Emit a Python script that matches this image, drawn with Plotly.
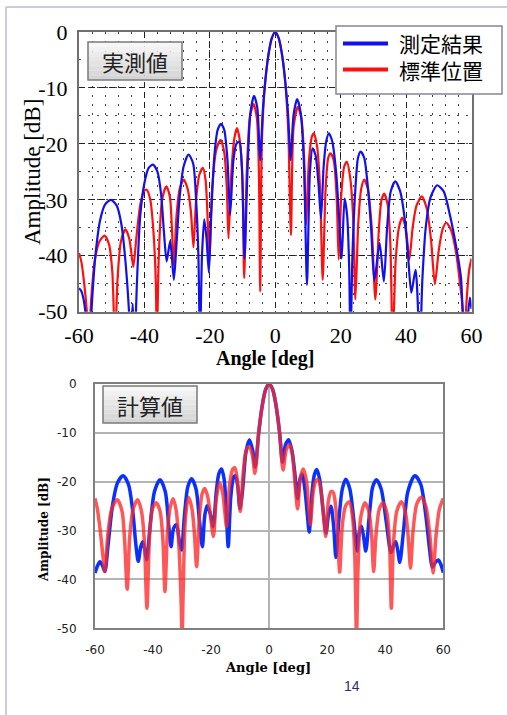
import plotly.graph_objects as go

# ---------------- data ----------------
LEGEND_NAMES = ["測定結果", "標準位置"]
TOP_TAG = "実測値"
BOTTOM_TAG = "計算値"
X_TICKS = [-60, -40, -20, 0, 20, 40, 60]
X_TICK_TEXT = ["-60", "-40", "-20", "0", "20", "40", "60"]
Y_TICKS = [0, -10, -20, -30, -40, -50]
Y_TICK_TEXT = ["0", "-10", "-20", "-30", "-40", "-50"]

# measured: measurement result (blue)
TOP_MEAS = [(-60,-45.8),(-59.3,-46.3),(-58.6,-47.8),(-57.6,-52),(-56.8,-56),(-56,-48),(-55,-40),
            (-53.5,-33.5),(-52,-30.8),(-50.2,-30),(-48.5,-31),(-47,-34.5),(-45.8,-41),(-44.7,-50),
            (-44.2,-56),(-43.6,-48.6),(-43,-56),(-42.3,-45),(-41.3,-33),(-40,-27),(-38.7,-24.3),
            (-37.4,-23.7),(-36,-25),(-34.9,-29),(-34,-36),(-33.2,-41),(-32.1,-37.3),(-31,-44.3),
            (-30.2,-38),(-29.3,-30),(-28,-24),(-26.5,-21.9),(-25.1,-23.5),(-24.2,-30),(-23.5,-40),
            (-23,-56),(-22.4,-40),(-21.7,-33.5),(-21,-37),(-20.3,-43),(-19.6,-33),(-18.6,-22),
            (-17.6,-17.5),(-16.6,-16.4),(-15.6,-17.5),(-14.6,-23),(-13.8,-32.7),(-12.8,-23),
            (-11.9,-20),(-11,-19.6),(-10.2,-24),(-9.4,-40.5),(-8.5,-25),(-7.6,-14.5),(-6.5,-11.4),
            (-5.5,-13.5),(-4.6,-23),(-3.8,-14),(-3,-8.5),(-2,-3.8),(-1,-1),(0,0),(1,-1),(2,-3.8),
            (3,-8.5),(3.9,-14.5),(4.7,-22.9),(5.6,-14.8),(6.7,-12),(7.8,-14.5),(8.8,-24),(9.7,-45.2),
            (10.6,-25),(11.4,-20.8),(12.3,-22),(13.2,-27),(14,-33.3),(14.8,-24),(15.6,-19.5),
            (16.4,-18.1),(17.4,-19.5),(18.6,-25),(19.5,-33),(20.3,-40.5),(21.2,-29.8),(22,-33),
            (22.6,-42),(23,-56),(23.6,-40),(24.5,-28),(25.3,-22.5),(26.1,-21.4),(27.2,-22.5),
            (28.2,-27),(29.3,-35),(30.3,-44.5),(31.9,-37.7),(33.2,-44.6),(34.2,-35),(35.3,-28.5),
            (36.7,-26.7),(38.2,-28.5),(39.5,-33),(40.6,-40),(41.6,-46.6),(42.9,-42.5),(44.2,-56),
            (45,-44),(46,-35),(47.5,-29.5),(49.5,-27.4),(51.5,-28.5),(53.5,-33),(55.5,-39),
            (56.8,-44),(57.8,-56),(58.7,-52),(59.5,-47.5),(60,-49.5)]

# measured: standard position (red)
TOP_STD = [(-60,-39.5),(-59.3,-41),(-58.5,-44.5),(-57.6,-50),(-57,-56),(-56.3,-48),(-55.2,-41),
           (-53.8,-37.5),(-52.2,-36.4),(-50.8,-38),(-49.8,-43),(-49,-56),(-48.2,-44),(-47.2,-37.5),
           (-45.8,-35.3),(-44.6,-37),(-43.4,-42),(-42.5,-37),(-41.3,-31),(-40.2,-28.5),(-39.3,-28.2),
           (-38.2,-30),(-37.2,-36),(-36.5,-45),(-36.2,-56),(-35.6,-40),(-34.6,-30),(-33.3,-27.6),
           (-32.2,-29.5),(-31.6,-35),(-31,-41.8),(-30.2,-33),(-29.2,-28),(-28,-26.4),(-26.8,-28),
           (-25.8,-32),(-25,-38.5),(-24.2,-30),(-23.2,-25.5),(-22.1,-24.3),(-21.3,-26.5),(-20.7,-33),
           (-20.2,-41.7),(-19.3,-28),(-18,-21),(-16.7,-19.3),(-15.6,-21.5),(-14.8,-28),(-14.3,-36.9),
           (-13.4,-25),(-12.5,-19),(-11.7,-17.2),(-10.8,-19.5),(-10,-27),(-9.5,-44),(-8.7,-25),
           (-7.7,-15),(-6.6,-12.9),(-5.6,-15.5),(-5,-25),(-4.6,-46.4),(-4.1,-20),(-3.3,-10.5),
           (-2.2,-4.5),(-1.1,-1.2),(0,0),(1.1,-1.2),(2.2,-4.5),(3.2,-10),(4,-18),(4.8,-36.3),
           (5.6,-17),(6.9,-13.4),(8,-15.5),(8.8,-22),(9.4,-34.5),(10.3,-23),(11.2,-18.7),(11.8,-18.1),
           (12.8,-20.5),(13.7,-28),(14.5,-44.3),(15.4,-28),(16.2,-22.5),(16.9,-21.7),(17.9,-23),
           (18.8,-30),(19.4,-40.7),(20.2,-29),(21.1,-24),(21.9,-23.2),(22.9,-26),(23.8,-33),
           (24.5,-47.8),(25.4,-34),(26.3,-28),(27.2,-26.4),(28.3,-28),(29.5,-35),(30.6,-47.8),
           (31.7,-35),(32.5,-30),(33.3,-28.9),(34.4,-31),(35.2,-38),(35.9,-56),(36.8,-41),(37.8,-35),
           (38.8,-33.2),(39.9,-35),(41,-40.7),(42,-35),(43.2,-31),(44.8,-29.4),(46.3,-31.5),
           (47.6,-37),(48.8,-45.1),(50,-39),(51.2,-35.2),(52.3,-34.1),(53.8,-35.5),(55.3,-39.5),
           (56.5,-45),(57.4,-50),(57.8,-56),(58.5,-48),(59.3,-42.5),(60,-40.5)]

# calculated: measurement result (blue)
CALC_MEAS = [(-60,-38.7),(-59.2,-37.3),(-58.3,-36.4),(-57.4,-37.2),(-56.6,-38.4),(-55.5,-33),(-54,-25),
             (-52.3,-20.3),(-50.3,-18.8),(-48.5,-20.5),(-47,-26),(-45.9,-33),(-45.1,-36.3),(-44.2,-33.2),
             (-43.5,-32.3),(-42.7,-34.5),(-42.2,-36),(-41,-29),(-39.5,-22),(-37.6,-19.6),(-35.8,-22),
             (-34.6,-29),(-33.8,-33.3),(-32.9,-29.5),(-31.9,-28.8),(-31,-32),(-30.2,-34),(-29.2,-27),
             (-28,-21),(-26.7,-19.4),(-25.2,-21.5),(-24,-28),(-23,-33.3),(-22.2,-27),(-21.4,-24.9),
             (-20.3,-26.5),(-19.3,-29.2),(-18.2,-22),(-17.3,-18.3),(-16.4,-17.4),(-15.5,-19.5),
             (-14.7,-27),(-14.1,-33.3),(-13.2,-23),(-12.2,-19),(-11.6,-18.8),(-10.8,-21),(-10.1,-25.5),
             (-9.2,-22),(-8,-14),(-6.8,-11.4),(-5.7,-13.5),(-4.8,-17),(-3.6,-10),(-2.4,-4.5),
             (-1.2,-1.1),(0,0),(1.2,-1.1),(2.4,-4.5),(3.6,-10),(4.6,-16),(5.6,-12.5),(6.7,-11.4),
             (7.8,-13.5),(8.8,-18),(9.8,-23.5),(10.6,-19.5),(11.4,-18.4),(12.3,-21.5),(13.2,-27),
             (13.8,-30.3),(14.8,-22),(15.6,-18.5),(16.4,-17.5),(17.4,-19.5),(18.6,-26),(19.6,-30.5),
             (20.5,-26.5),(21.3,-25),(22.2,-29),(23,-35.5),(24,-28),(25.2,-21.5),(26.4,-19.5),
             (27.8,-21.5),(29.2,-28),(30.3,-34.2),(31,-30.5),(31.8,-29.1),(32.6,-31.5),(33.3,-34.2),
             (34.5,-27),(35.7,-21),(37,-19.6),(38.6,-21.5),(40.3,-28),(42,-34.5),(42.9,-33),
             (43.6,-32.3),(44.3,-34),(45,-36.5),(46.3,-30),(47.8,-22),(50.2,-18.8),(52.2,-20.5),
             (54,-27),(55.3,-34),(56.2,-37.5),(57.3,-36.5),(58.3,-36),(59.2,-37),(60,-38.6)]

# calculated: standard position (red)
CALC_STD = [(-60,-23.4),(-59.2,-25.5),(-58.2,-30),(-57.3,-35),(-56.6,-38.4),(-55.6,-31),(-54.2,-25.5),
            (-52.3,-23.7),(-50.7,-26),(-49.8,-32),(-48.9,-42),(-48,-31),(-46.8,-25.5),(-45.3,-23.7),
            (-44,-26),(-43,-32),(-42.1,-45.9),(-41.2,-31),(-40.2,-25.5),(-38.9,-24.3),(-37.6,-26),
            (-36.6,-32),(-35.9,-42.5),(-35,-30),(-34,-25),(-33.1,-23.5),(-32,-26),(-31.1,-33),
            (-30.3,-45),(-30,-52),(-29.6,-42),(-28.9,-28),(-27.8,-23.2),(-26.6,-25.5),(-25.7,-31),
            (-25,-37.4),(-24,-27),(-23.1,-22.5),(-22.2,-21.4),(-21.2,-23),(-20.2,-27),(-19.2,-31.2),
            (-18.2,-23.5),(-17.1,-20.2),(-16.1,-22),(-15.3,-26),(-14.7,-29.2),(-13.7,-21),(-12.6,-17.5),
            (-11.8,-17.1),(-11,-19.5),(-10.3,-24),(-9.9,-26.1),(-8.9,-18),(-7.9,-13.5),(-6.9,-12.8),
            (-5.8,-14.5),(-4.9,-18.3),(-3.6,-10),(-2.4,-4.5),(-1.2,-1.1),(0,0),(1.2,-1.1),(2.4,-4.5),
            (3.6,-10),(4.8,-17.6),(5.9,-13.5),(7,-12.4),(8,-14.5),(9,-21),(9.8,-25.6),(10.8,-19),
            (11.8,-17.4),(12.9,-20),(13.6,-25),(14.2,-28.8),(15.2,-22),(16.1,-19.8),(16.9,-19.6),
            (17.9,-22),(18.8,-27.5),(19.5,-31.2),(20.4,-24),(21.3,-22),(22.1,-22.2),(22.9,-25),
            (23.7,-32),(24.3,-38.5),(25.2,-29),(26.3,-25),(27.6,-24.1),(28.7,-27),(29.5,-35),
            (30.1,-52),(30.6,-38),(31.5,-27.5),(33,-24.3),(34.3,-26),(35.3,-31),(36,-38.4),(36.8,-31),
            (38,-25.5),(39.3,-24.3),(40.6,-26.5),(41.5,-33),(42.1,-45.9),(42.8,-33),(44,-26),
            (45.6,-24.1),(47,-26.5),(48,-32),(48.7,-37.7),(49.6,-30),(50.9,-24.5),(52.5,-23.2),
            (54,-25),(55.3,-30.5),(56.5,-38.7),(57.5,-31),(58.7,-25.5),(60,-23.4)]

# ---------------- layout helpers ----------------
W, H = 507, 715
def fx(px): return px / W
def fy(py): return 1 - py / H

def xy(pairs):
    return [p[0] for p in pairs], [p[1] for p in pairs]

fig = go.Figure()

BLUE_T, RED_T = "#1010f0", "#ff1010"
BLUE_B, RED_B = "#0a30ff", "rgba(255,40,40,0.78)"

x, y = xy(TOP_STD)
fig.add_trace(go.Scatter(x=x, y=y, name=LEGEND_NAMES[1], mode="lines", showlegend=False,
                         line=dict(color=RED_T, width=2.2, shape="spline", smoothing=0.7),
                         xaxis="x", yaxis="y"))
x, y = xy(TOP_MEAS)
fig.add_trace(go.Scatter(x=x, y=y, name=LEGEND_NAMES[0], mode="lines", showlegend=False,
                         line=dict(color=BLUE_T, width=2.2, shape="spline", smoothing=0.7),
                         xaxis="x", yaxis="y"))
x, y = xy(CALC_MEAS)
fig.add_trace(go.Scatter(x=x, y=y, name=LEGEND_NAMES[0], showlegend=False, mode="lines",
                         line=dict(color=BLUE_B, width=3.5, shape="spline", smoothing=0.8),
                         xaxis="x2", yaxis="y2"))
x, y = xy(CALC_STD)
fig.add_trace(go.Scatter(x=x, y=y, name=LEGEND_NAMES[1], showlegend=False, mode="lines",
                         line=dict(color=RED_B, width=3.5, shape="spline", smoothing=0.8),
                         xaxis="x2", yaxis="y2"))

SERIF = "Liberation Serif, Times New Roman, serif"
CJK = "Noto Sans CJK JP"

top_x = dict(domain=[fx(79), fx(471.5)], anchor="y", range=[-60, 60],
             tickvals=X_TICKS, ticktext=X_TICK_TEXT, automargin=False,
             showgrid=True, gridcolor="#222", gridwidth=1, griddash="6px,4px",
             minor=dict(dtick=4, tick0=0, showgrid=True, gridcolor="#444", gridwidth=1, griddash="2px,7px"),
             zeroline=False, showline=True, linecolor="#707070", linewidth=2, mirror=True,
             ticks="", ticklabelstandoff=3, tickfont=dict(family=SERIF, size=22, color="black"))
top_y = dict(domain=[fy(311.7), fy(32)], anchor="x", range=[-50, 0],
             tickvals=Y_TICKS, ticktext=Y_TICK_TEXT, automargin=False,
             showgrid=True, gridcolor="#222", gridwidth=1, griddash="6px,4px",
             minor=dict(dtick=5, tick0=0, showgrid=True, gridcolor="#444", gridwidth=1, griddash="2px,7px"),
             zeroline=False, showline=True, linecolor="#707070", linewidth=2, mirror=True,
             ticks="", ticklabelstandoff=5, tickfont=dict(family=SERIF, size=22, color="black"))
bot_x = dict(domain=[fx(95), fx(443.3)], anchor="y2", range=[-60, 60],
             tickvals=X_TICKS, ticktext=X_TICK_TEXT, automargin=False,
             showgrid=False, zeroline=True, zerolinecolor="#b4b4b4", zerolinewidth=1.5,
             showline=True, linecolor="#808080", linewidth=2, mirror=True,
             ticks="", ticklabelstandoff=9, tickfont=dict(family="DejaVu Sans", size=12, color="#222"))
bot_y = dict(domain=[fy(628.3), fy(384)], anchor="x2", range=[-50, 0],
             tickvals=Y_TICKS, ticktext=Y_TICK_TEXT, automargin=False,
             showgrid=True, gridcolor="#b4b4b4", gridwidth=1.5, zeroline=False,
             showline=True, linecolor="#808080", linewidth=2, mirror=True,
             ticks="", ticklabelstandoff=14, tickfont=dict(family="DejaVu Sans", size=12, color="#222"))

def note(text, x, y, **kw):
    d = dict(text=text, x=fx(x), y=fy(y), xref="paper", yref="paper", showarrow=False,
             xanchor="center", yanchor="middle")
    d.update(kw)
    return d

annotations = [
    note(TOP_TAG, 135, 61, width=90, height=32, font=dict(family=CJK, size=22, color="#222")),
    note(BOTTOM_TAG, 150, 404.5, width=90, height=32, font=dict(family=CJK, size=22, color="#222")),
    note("Amplitude [dB]", 32, 172, textangle=-90, font=dict(family=SERIF, size=23, color="black")),
    note("<b>Angle [deg]</b>", 265, 358, font=dict(family=SERIF, size=20, color="black")),
    note("<b>Amplitude [dB]</b>", 44, 530, textangle=-90,
         font=dict(family="DejaVu Serif", size=12, color="black")),
    note("<b>Angle [deg]</b>", 268, 667, font=dict(family="DejaVu Serif", size=13, color="black")),
    note("14", 352, 686, font=dict(family="Liberation Sans", size=14, color="#2e2e6e")),
    # manual legend texts (one block, two lines)
    note(LEGEND_NAMES[0] + "<br>" + LEGEND_NAMES[1], 397, 56.5, xanchor="left", align="left",
         font=dict(family=CJK, size=21, color="black")),
]

def gradient_box(x0, y0, x1, y1, n=8, top=(246, 246, 246), bot=(212, 212, 212)):
    out = []
    h = (y1 - y0) / n
    for i in range(n):
        t = i / (n - 1)
        c = tuple(round(top[k] + (bot[k] - top[k]) * t) for k in range(3))
        out.append(dict(type="rect", xref="paper", yref="paper", layer="above",
                        x0=fx(x0), x1=fx(x1), y0=fy(y0 + h * (i + 1)), y1=fy(y0 + h * i),
                        fillcolor="rgb(%d,%d,%d)" % c, line=dict(width=0)))
    out.append(dict(type="rect", xref="paper", yref="paper", layer="above",
                    x0=fx(x0), x1=fx(x1), y0=fy(y1), y1=fy(y0),
                    fillcolor="rgba(0,0,0,0)", line=dict(color="#7a7a7a", width=1.5)))
    return out

shapes = [
    # slide frame
    dict(type="line", xref="paper", yref="paper", x0=fx(6), x1=fx(6), y0=fy(7), y1=0,
         line=dict(color="#d2cad8", width=2)),
    dict(type="line", xref="paper", yref="paper", x0=fx(6), x1=1, y0=fy(7), y1=fy(7),
         line=dict(color="#d2cad8", width=2)),
    # legend box and samples
    dict(type="rect", xref="paper", yref="paper", x0=fx(336), x1=fx(502), y0=fy(94), y1=fy(26),
         fillcolor="white", line=dict(color="#8a8496", width=1.5), layer="above"),
    dict(type="line", xref="paper", yref="paper", x0=fx(343), x1=fx(388), y0=fy(43.5), y1=fy(43.5),
         line=dict(color=BLUE_T, width=4)),
    dict(type="line", xref="paper", yref="paper", x0=fx(343), x1=fx(388), y0=fy(69.5), y1=fy(69.5),
         line=dict(color=RED_T, width=4)),
]
shapes += gradient_box(88, 42, 182, 80)
shapes += gradient_box(103, 386, 197, 423)

fig.update_layout(
    width=W, height=H, margin=dict(l=0, r=0, t=0, b=0, pad=0, autoexpand=False),
    paper_bgcolor="white", plot_bgcolor="white",
    xaxis=top_x, yaxis=top_y, xaxis2=bot_x, yaxis2=bot_y,
    annotations=annotations, shapes=shapes, showlegend=False,
)

fig.write_html("out.html", config={"displayModeBar": False},
               post_script="document.body.style.margin='0';document.body.style.overflow='hidden';")
